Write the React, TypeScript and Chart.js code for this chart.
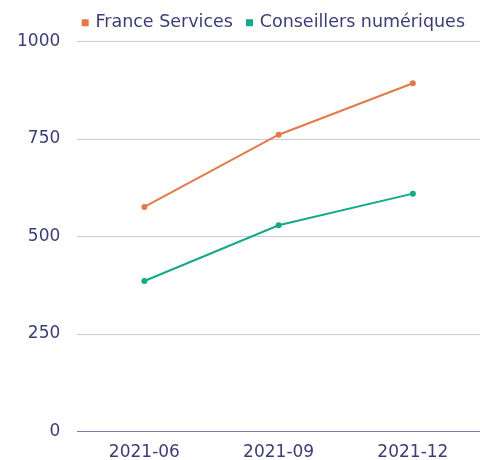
import React, { useEffect, useRef } from "react";
import { Chart, registerables } from "chart.js";

Chart.register(...registerables);

const categories = ["2021-06", "2021-09", "2021-12"];
const franceServices = [576, 761, 893];
const conseillersNumeriques = [386, 529, 610];
const yTicks = [0, 250, 500, 750, 1000];

const TEXT = "#3d3d75";
const ORANGE = "#e4794a";
const GREEN = "#14a98a";
const FONT = "'DejaVu Sans', sans-serif";

export default function App() {
  const ref = useRef<HTMLCanvasElement>(null);
  useEffect(() => {
    if (!ref.current) return;
    const chart = new Chart(ref.current, {
      type: "line",
      data: {
        labels: categories,
        datasets: [
          {
            label: "France Services",
            data: franceServices,
            borderColor: ORANGE,
            backgroundColor: ORANGE,
            borderWidth: 2,
            pointRadius: 2,
            pointStyle: "circle",
          },
          {
            label: "Conseillers numériques",
            data: conseillersNumeriques,
            borderColor: GREEN,
            backgroundColor: GREEN,
            borderWidth: 2,
            pointRadius: 2,
            pointStyle: "circle",
          },
        ],
      },
      options: {
        responsive: false,
        animation: false,
        layout: { autoPadding: false, padding: { top: -1, right: 0, left: 0, bottom: -6 } },
        plugins: {
          legend: {
            position: "top",
            align: "end",
            labels: {
              usePointStyle: true,
              pointStyle: "rect",
              boxWidth: 3,
              boxHeight: 5,
              color: TEXT,
              font: { family: FONT, size: 17.5 },
              padding: 15,
            },
          },
          tooltip: { enabled: false },
        },
        scales: {
          x: {
            offset: true,
            grid: { display: false },
            border: { display: true, color: "#7a7aa6", width: 1 },
            ticks: { color: TEXT, font: { family: FONT, size: 17 }, padding: 3 },
          },
          y: {
            min: 0,
            max: 1000,
            afterBuildTicks: (axis: any) => {
              axis.ticks = yTicks.map((v) => ({ value: v }));
            },
            grid: { color: "#cbc8df", drawTicks: false },
            border: { display: false },
            ticks: {
              color: TEXT,
              font: { family: FONT, size: 17 },
              padding: 17,
              callback: (v: any) => String(v),
            },
          },
        },
      },
    });
    return () => chart.destroy();
  }, []);
  return (
    <div style={{ position: "absolute", left: 0, top: 0, width: 480, height: 460 }}>
      <canvas ref={ref} width={480} height={460} />
    </div>
  );
}
